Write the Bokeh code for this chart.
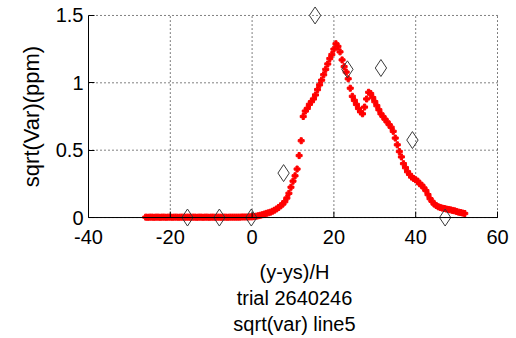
from bokeh.plotting import figure
from bokeh.models import FixedTicker
from bokeh.embed import file_html
from bokeh.resources import INLINE

# ---- data ----
x_ticks = [-40, -20, 0, 20, 40, 60]
x_tick_labels = {-40: "-40", -20: "-20", 0: "0", 20: "20", 40: "40", 60: "60"}
y_ticks = [0, 0.5, 1, 1.5]
y_tick_labels = {0: "0", 0.5: "0.5", 1: "1", 1.5: "1.5"}

flat_x = [-26, -25.5, -25, -24.5, -24, -23.5, -23, -22.5, -22, -21.5, -21,
          -20.5, -20, -19.5, -19, -18.5, -18, -17.5, -17, -16.5, -16, -15.5,
          -15, -14.5, -14, -13.5, -13, -12.5, -12, -11.5, -11, -10.5, -10,
          -9.5, -9, -8.5, -8, -7.5, -7, -6.5, -6, -5.5, -5, -4.5, -4, -3.5,
          -3, -2.5, -2, -1.5, -1, -0.5]
flat_y = [0.003, 0.002, 0.003, 0.003, 0.002, 0.003, 0.003, 0.002, 0.003,
          0.003, 0.002, 0.003, 0.003, 0.002, 0.003, 0.003, 0.002, 0.003,
          0.003, 0.002, 0.003, 0.003, 0.002, 0.003, 0.003, 0.002, 0.003,
          0.003, 0.002, 0.003, 0.003, 0.002, 0.003, 0.003, 0.002, 0.003,
          0.003, 0.002, 0.003, 0.003, 0.002, 0.003, 0.003, 0.003, 0.003,
          0.003, 0.003, 0.004, 0.004, 0.004, 0.004, 0.005]

peak_x = [0, 0.5, 1, 1.5, 2, 2.5, 3, 3.5, 4, 4.5, 5, 5.5, 6, 6.5, 7, 7.5, 8,
          8.5, 9, 9.5, 10, 10.5, 11, 11.5, 12, 12.5, 13, 13.5, 14, 14.5, 15,
          15.5, 16, 16.5, 17, 17.5, 18, 18.5, 19, 19.5, 20, 20.5, 21, 21.5,
          22, 22.5, 23, 23.5, 24, 24.5, 25, 25.5, 26, 26.5, 27, 27.5, 28,
          28.5, 29, 29.5, 30, 30.5, 31, 31.5, 32, 32.5, 33, 33.5, 34, 34.5,
          35, 35.5, 36, 36.5, 37, 37.5, 38, 38.5, 39, 39.5, 40, 40.5, 41,
          41.5, 42, 42.5, 43, 43.5, 44, 44.5, 45, 45.5, 46, 46.5, 47, 47.5,
          48, 48.5, 49, 49.5, 50, 50.5, 51, 51.5, 52]
peak_y = [0.005, 0.007, 0.010, 0.013, 0.017, 0.021, 0.026, 0.031, 0.035,
          0.040, 0.047, 0.055, 0.064, 0.075, 0.087, 0.100, 0.118, 0.145,
          0.180, 0.225, 0.270, 0.310, 0.360, 0.460, 0.570, 0.750, 0.790,
          0.810, 0.840, 0.860, 0.880, 0.910, 0.950, 0.985, 1.020, 1.060,
          1.100, 1.140, 1.180, 1.210, 1.250, 1.290, 1.270, 1.230, 1.170,
          1.120, 1.080, 1.030, 0.960, 0.900, 0.870, 0.840, 0.810, 0.785,
          0.770, 0.820, 0.880, 0.930, 0.920, 0.890, 0.860, 0.830, 0.800,
          0.770, 0.750, 0.730, 0.710, 0.690, 0.670, 0.640, 0.590, 0.540,
          0.490, 0.450, 0.400, 0.370, 0.340, 0.320, 0.300, 0.290, 0.280,
          0.270, 0.250, 0.240, 0.220, 0.200, 0.170, 0.140, 0.120, 0.100,
          0.090, 0.080, 0.075, 0.070, 0.067, 0.063, 0.060, 0.057, 0.053,
          0.050, 0.045, 0.040, 0.037, 0.033, 0.030]

diamond_x = [-15.8, -8.0, -0.2, 7.7, 15.4, 23.3, 31.5, 39.2, 47.2]
diamond_y = [0.0, 0.0, 0.0, 0.33, 1.5, 1.10, 1.11, 0.575, 0.0]

x_label = "(y-ys)/H"
sub1 = "trial 2640246"
sub2 = "sqrt(var) line5"
y_label = "sqrt(Var)(ppm)"

FONT = "Liberation Sans"

# frame geometry (pixels): 1.5 y-units -> 203 px, 100 x-units -> 409 px
PAD_Y_PX = 9
PAD_X_PX = 3
TICK_PX = 6
ypad = PAD_Y_PX * 1.5 / 203.0
xpad = PAD_X_PX * 100.0 / 409.0
tick_len = TICK_PX * 1.5 / 203.0
x_lo, x_hi = x_ticks[0], x_ticks[-1]
y_lo, y_hi = y_ticks[0], y_ticks[-1]

p = figure(width=516, height=338,
           x_range=(x_lo, x_hi + xpad), y_range=(y_lo - ypad, y_hi + ypad),
           output_backend="svg", toolbar_location=None,
           min_border_left=88, min_border_right=16, min_border_top=6,
           min_border_bottom=111)
p.outline_line_color = None
p.background_fill_color = "white"
p.border_fill_color = "white"
p.xgrid.visible = False
p.ygrid.visible = False

# dotted grid from the tick lists
p.segment(x0=x_ticks, y0=[y_lo] * len(x_ticks), x1=x_ticks,
          y1=[y_hi] * len(x_ticks), line_color="black", line_width=1,
          line_dash="1 3")
p.segment(x0=[x_lo] * len(y_ticks), y0=y_ticks, x1=[x_hi] * len(y_ticks),
          y1=y_ticks, line_color="black", line_width=1, line_dash="1 3")

curve_x = flat_x + peak_x
curve_y = flat_y + peak_y
p.scatter(curve_x, curve_y, marker="plus", size=6, color="#ff0000")
p.scatter(diamond_x, diamond_y, marker="diamond", size=17,
          fill_color=None, line_color="#3a3a3a", line_width=1)

# bottom axis line and inward ticks at y = 0
p.segment(x0=[x_lo], y0=[y_lo], x1=[x_hi], y1=[y_lo], line_color="black",
          line_width=1)
p.segment(x0=x_ticks, y0=[y_lo] * len(x_ticks), x1=x_ticks,
          y1=[y_lo + tick_len] * len(x_ticks), line_color="black",
          line_width=1)

for ax in (p.xaxis[0], p.yaxis[0]):
    ax.axis_line_color = "black"
    ax.major_tick_line_color = "black"
    ax.major_tick_in = TICK_PX
    ax.major_tick_out = 0
    ax.minor_tick_line_color = None
    ax.major_label_text_font = FONT
    ax.major_label_text_font_size = "20px"
    ax.major_label_text_color = "black"
    ax.axis_label_text_font = FONT
    ax.axis_label_text_font_size = "20px"
    ax.axis_label_text_font_style = "normal"
    ax.axis_label_text_color = "black"

p.xaxis.axis_line_color = None
p.xaxis.major_tick_line_color = None
p.xaxis.ticker = FixedTicker(ticks=x_ticks)
p.xaxis.major_label_overrides = x_tick_labels
p.yaxis.ticker = FixedTicker(ticks=y_ticks)
p.yaxis.bounds = (y_lo, y_hi)
p.yaxis.major_label_overrides = y_tick_labels
p.xaxis.major_label_standoff = 3
p.yaxis.major_label_standoff = 5
p.xaxis.axis_label = x_label + "\n" + sub1 + "\n" + sub2
p.xaxis.axis_label_standoff = 14
p.yaxis.axis_label = y_label
p.yaxis.axis_label_text_font_size = "22px"
p.yaxis.axis_label_standoff = 9

open("out.html", "w").write(file_html(p, INLINE))
